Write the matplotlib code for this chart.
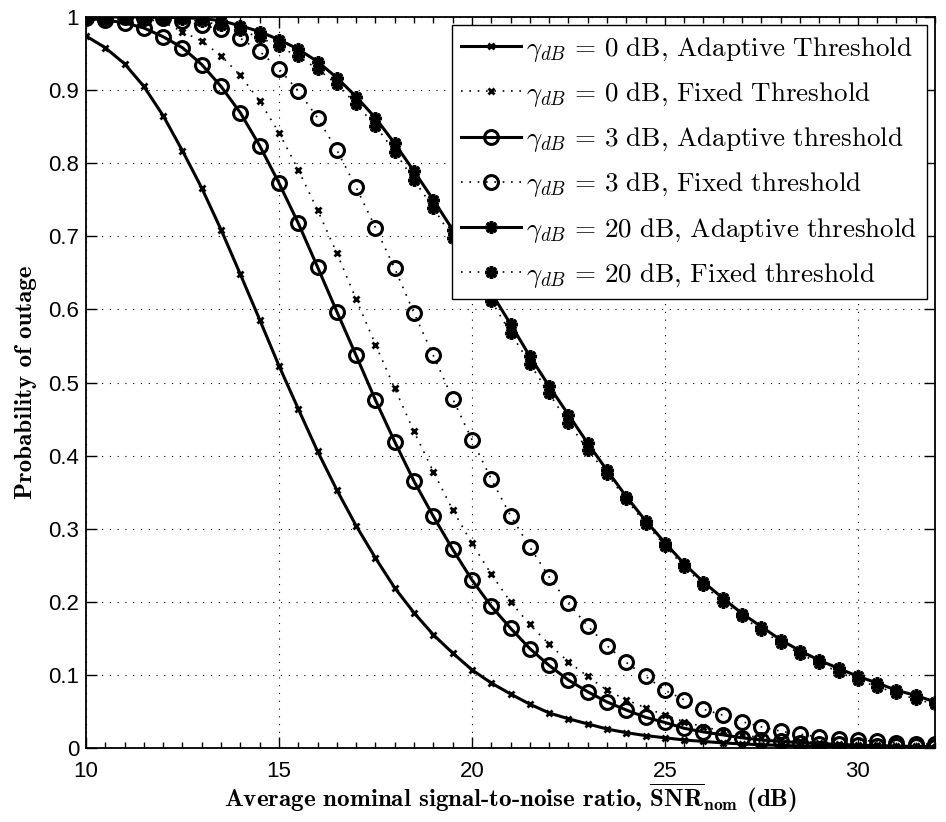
import numpy as np
import matplotlib
matplotlib.use('Agg')
import matplotlib.pyplot as plt
from matplotlib.ticker import MultipleLocator, FormatStrFormatter

plt.rcParams['mathtext.fontset'] = 'cm'
plt.rcParams['font.family'] = ['Liberation Sans', 'DejaVu Sans']

# SNR_nom grid (dB), one marker every 0.5 dB
snr = np.arange(10, 32.01, 0.5)

# gamma_dB = 0 dB
p0_adapt = [0.974, 0.958, 0.936, 0.905, 0.865, 0.817, 0.766, 0.709, 0.648, 0.586,
            0.523, 0.464, 0.406, 0.353, 0.304, 0.260, 0.219, 0.185, 0.155, 0.130,
            0.107, 0.089, 0.074, 0.060, 0.048, 0.040, 0.033, 0.026, 0.021, 0.017,
            0.014, 0.011, 0.009, 0.007, 0.0056, 0.0045, 0.0036, 0.0028, 0.0022, 0.0018,
            0.0014, 0.0011, 0.0009, 0.0007, 0.0006]
p0_fixed = [1.0, 0.9995, 0.999, 0.998, 0.993, 0.980, 0.967, 0.947, 0.920, 0.885,
            0.842, 0.791, 0.736, 0.677, 0.614, 0.552, 0.492, 0.433, 0.378, 0.326,
            0.280, 0.238, 0.200, 0.169, 0.142, 0.118, 0.098, 0.079, 0.066, 0.055,
            0.045, 0.036, 0.029, 0.023, 0.018, 0.014, 0.011, 0.009, 0.007, 0.0055,
            0.0045, 0.0035, 0.003, 0.0024, 0.002]
# gamma_dB = 3 dB
p3_adapt = [0.998, 0.996, 0.992, 0.985, 0.973, 0.958, 0.935, 0.905, 0.869, 0.824,
            0.773, 0.718, 0.658, 0.597, 0.537, 0.476, 0.419, 0.365, 0.317, 0.272,
            0.230, 0.194, 0.164, 0.136, 0.113, 0.093, 0.077, 0.063, 0.052, 0.042,
            0.035, 0.027, 0.022, 0.018, 0.014, 0.011, 0.009, 0.0075, 0.006, 0.005,
            0.004, 0.0033, 0.0027, 0.0022, 0.0018]
p3_fixed = [1.0, 1.0, 0.9995, 0.999, 0.998, 0.995, 0.989, 0.983, 0.971, 0.953,
            0.929, 0.899, 0.862, 0.818, 0.767, 0.712, 0.656, 0.595, 0.537, 0.478,
            0.422, 0.368, 0.318, 0.275, 0.234, 0.198, 0.167, 0.140, 0.117, 0.098,
            0.079, 0.066, 0.053, 0.045, 0.036, 0.029, 0.023, 0.019, 0.015, 0.012,
            0.011, 0.009, 0.007, 0.006, 0.005]
# gamma_dB = 20 dB
p20_adapt = [1.0, 1.0, 1.0, 1.0, 0.9995, 0.999, 0.998, 0.995, 0.988, 0.980,
             0.969, 0.956, 0.939, 0.917, 0.891, 0.862, 0.827, 0.789, 0.750, 0.709,
             0.666, 0.623, 0.580, 0.536, 0.495, 0.456, 0.417, 0.380, 0.344, 0.311,
             0.281, 0.252, 0.227, 0.205, 0.184, 0.166, 0.148, 0.133, 0.120, 0.109,
             0.098, 0.089, 0.079, 0.072, 0.063]
p20_fixed = [1.0, 1.0, 1.0, 0.9995, 0.999, 0.997, 0.994, 0.989, 0.982, 0.972,
             0.960, 0.946, 0.929, 0.908, 0.881, 0.851, 0.816, 0.777, 0.739, 0.698,
             0.655, 0.612, 0.568, 0.526, 0.485, 0.445, 0.408, 0.375, 0.340, 0.307,
             0.277, 0.248, 0.223, 0.200, 0.180, 0.161, 0.144, 0.129, 0.116, 0.104,
             0.093, 0.084, 0.075, 0.067, 0.060]

labels = [r'$\gamma_{dB}\,=\,0\ \mathrm{dB,\,Adaptive\ Threshold}$',
          r'$\gamma_{dB}\,=\,0\ \mathrm{dB,\,Fixed\ Threshold}$',
          r'$\gamma_{dB}\,=\,3\ \mathrm{dB,\,Adaptive\ threshold}$',
          r'$\gamma_{dB}\,=\,3\ \mathrm{dB,\,Fixed\ threshold}$',
          r'$\gamma_{dB}\,=\,20\ \mathrm{dB,\,Adaptive\ threshold}$',
          r'$\gamma_{dB}\,=\,20\ \mathrm{dB,\,Fixed\ threshold}$']

fig = plt.figure(figsize=(9.46, 8.22), dpi=100)
ax = fig.add_axes([0.0909, 0.0900, 0.8975, 0.8893])

dot = (0, (1, 4))
star = (8, 2, 0)
ax.plot(snr, p0_adapt, '-', color='k', lw=2.2, marker='x', ms=5, mew=2, label=labels[0])
ax.plot(snr, p0_fixed, ls=dot, color='k', lw=1.2, marker='x', ms=5, mew=2, label=labels[1])
ax.plot(snr, p3_adapt, '-', color='k', lw=2.2, marker='o', ms=10, mew=2.2, mfc='none', label=labels[2])
ax.plot(snr, p3_fixed, ls=dot, color='k', lw=1.2, marker='o', ms=10, mew=2.2, mfc='none', label=labels[3])
ax.plot(snr, p20_adapt, '-', color='k', lw=2.2, marker=star, ms=9, mew=2.5, label=labels[4])
ax.plot(snr, p20_fixed, ls=dot, color='k', lw=1.2, marker=star, ms=9, mew=2.5, label=labels[5])

ax.set_xlim(10, 32)
ax.set_ylim(0, 1)
ax.xaxis.set_major_locator(MultipleLocator(5))
ax.xaxis.set_minor_locator(MultipleLocator(0.5))
ax.yaxis.set_major_locator(MultipleLocator(0.1))
ax.yaxis.set_major_formatter(FormatStrFormatter('%g'))
ax.tick_params(which='both', direction='in', top=True, right=True, labelsize=16, width=1)
ax.tick_params(which='major', length=8)
ax.tick_params(which='minor', length=4)
ax.tick_params(axis='x', pad=9)
ax.tick_params(axis='y', pad=5)
ax.grid(True, which='major', ls=(0, (1, 6)), lw=0.8, color='k')
for s in ax.spines.values():
    s.set_linewidth(1.3)

ax.set_xlabel('Average nominal signal-to-noise ratio, $\\overline{\\mathbf{SNR}}_{\\mathbf{nom}}$ (dB)',
              fontfamily='cmb10', fontsize=18, labelpad=0)
ax.set_ylabel('Probability of outage', fontfamily='cmb10', fontsize=18, labelpad=8)

leg = ax.legend(loc='upper right', fontsize=19.5, fancybox=False, framealpha=1,
                edgecolor='k', handlelength=2.2, handletextpad=0.2,
                labelspacing=0.6, borderaxespad=0.3, borderpad=0.35)
leg.get_frame().set_linewidth(1)

fig.savefig('out.png', dpi=100)
